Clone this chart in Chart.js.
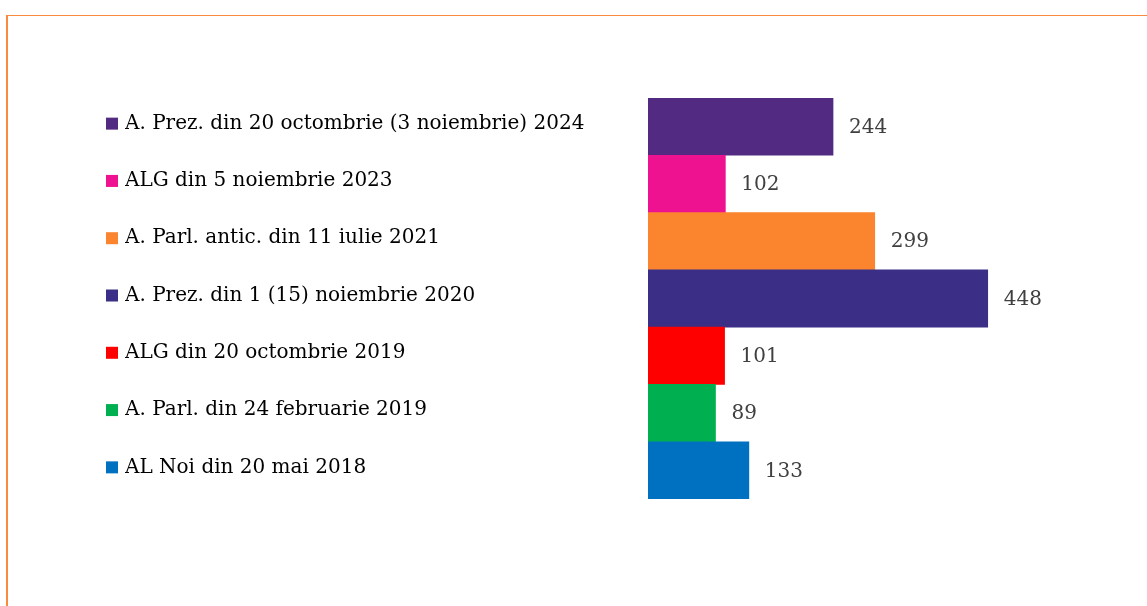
<!DOCTYPE html>
<html>
<head>
<meta charset="utf-8">
<script src="https://cdn.jsdelivr.net/npm/chart.js@4"></script>
<style>
  html, body { margin: 0; padding: 0; background: #fff; }
  canvas { display: block; }
</style>
</head>
<body>
<canvas id="chart" width="1147" height="606"></canvas>
<script>
  const labels = [
    "A. Prez. din 20 octombrie (3 noiembrie) 2024",
    "ALG din 5 noiembrie 2023",
    "A. Parl. antic. din 11 iulie 2021",
    "A. Prez. din 1 (15) noiembrie 2020",
    "ALG din 20 octombrie 2019",
    "A. Parl. din 24 februarie 2019",
    "AL Noi din 20 mai 2018"
  ];
  const values = [244, 102, 299, 448, 101, 89, 133];
  const colors = ["#532a81", "#ee1290", "#fb842e", "#3a2e86", "#ff0000", "#00b050", "#0070c0"];

  const FONT = "'DejaVu Serif', serif";

  // orange frame, colored squares before each category label, value text after each bar
  const extras = {
    id: "extras",
    beforeDraw(chart) {
      const ctx = chart.ctx;
      ctx.save();
      ctx.fillStyle = "#f98a3e";
      ctx.fillRect(6, 15, chart.width - 6, 1);
      ctx.fillRect(6, 15, 2, chart.height - 15);
      ctx.restore();
    },
    afterDraw(chart) {
      const ctx = chart.ctx;
      const y = chart.scales.y;
      ctx.save();
      y.ticks.forEach((t, i) => {
        const py = y.getPixelForTick(i) - 3;
        ctx.fillStyle = colors[i];
        ctx.fillRect(106, py - 6, 12, 12);
      });
      const meta = chart.getDatasetMeta(0);
      ctx.font = "20px " + FONT;
      ctx.fillStyle = "#404040";
      ctx.textBaseline = "middle";
      ctx.textAlign = "left";
      meta.data.forEach((bar, i) => {
        ctx.fillText(values[i], bar.x + 16, bar.y + 1);
      });
      ctx.restore();
    }
  };

  new Chart(document.getElementById("chart"), {
    type: "bar",
    data: {
      labels: labels,
      datasets: [{
        data: values,
        backgroundColor: colors,
        barPercentage: 1,
        categoryPercentage: 1,
        borderWidth: 0
      }]
    },
    options: {
      indexAxis: "y",
      responsive: false,
      animation: false,
      layout: { padding: { left: 125, right: 44, top: 98, bottom: 107 } },
      plugins: { legend: { display: false }, tooltip: { enabled: false } },
      scales: {
        x: { display: false, min: 0, max: 600 },
        y: {
          grid: { display: false },
          border: { display: false },
          afterFit(scale) { scale.width = 523; },
          ticks: {
            crossAlign: "far",
            color: "#000",
            font: { family: FONT, size: 20 },
            labelOffset: -3
          }
        }
      }
    },
    plugins: [extras]
  });
</script>
</body>
</html>
